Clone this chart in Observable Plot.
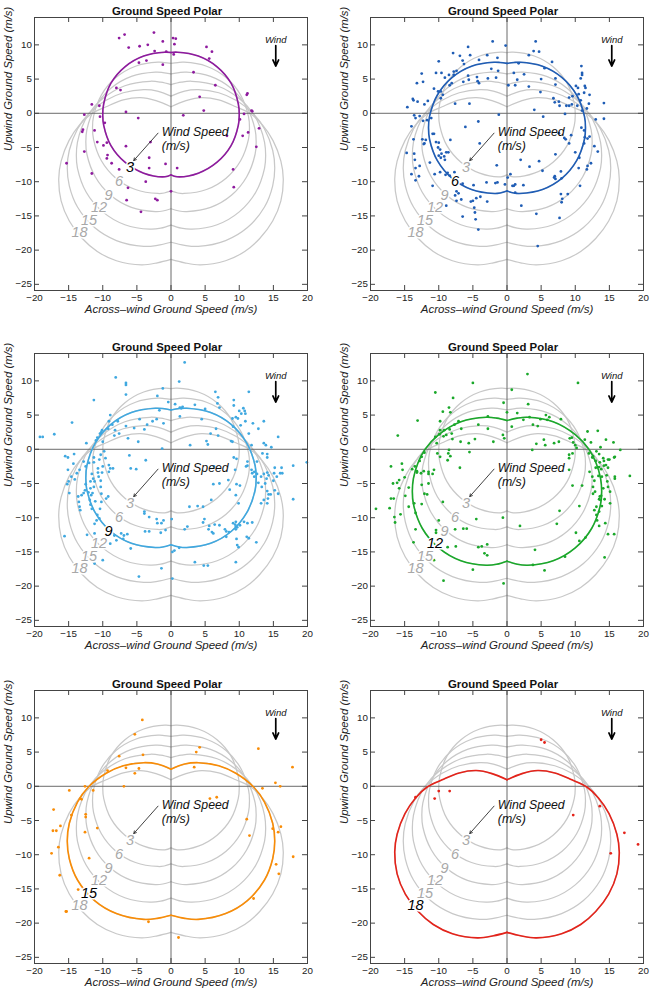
<!DOCTYPE html>
<html><head><meta charset="utf-8">
<script src="https://cdn.jsdelivr.net/npm/d3@7"></script>
<script src="https://cdn.jsdelivr.net/npm/@observablehq/plot@0.6"></script>
<style>
body{margin:0;background:#fff;width:650px;height:992px;overflow:hidden;position:relative;font-family:"Liberation Sans",Arial,Helvetica,sans-serif;}
.panel{position:absolute;}
</style></head><body>
<div id="p0" class="panel" style="left:0px;top:0px"></div>
<div id="p1" class="panel" style="left:336px;top:0px"></div>
<div id="p2" class="panel" style="left:0px;top:336px"></div>
<div id="p3" class="panel" style="left:336px;top:336px"></div>
<div id="p4" class="panel" style="left:0px;top:673px"></div>
<div id="p5" class="panel" style="left:336px;top:673px"></div>
<script>
const xTicks = [-20,-15,-10,-5,0,5,10,15,20];
const yTicks = [-25,-20,-15,-10,-5,0,5,10];
const windSpeeds = [3,6,9,12,15,18];
const panelColors = ["#8e1a9e","#1f5db5","#3fa8e0","#1aa82a","#f98c06","#e4231a"];
const titleText = "Ground Speed Polar";
const xLabel = "Across\u2013wind Ground Speed (m/s)";
const yLabel = "Upwind Ground Speed (m/s)";

// right halves of the polar curves (top cusp -> bottom cusp)
const polar3 = [[0,8.88],[0.9,8.93],[4.0,8.37],[6.75,6.8],[8.8,4.4],[9.86,1.4],[10.0,-0.2],[9.86,-1.76],[8.8,-4.73],[6.75,-7.15],[4.0,-8.75],[0.9,-9.28],[0,-9.0]];
const polar6 = [[0,7.3],[1.0,7.42],[1.9,7.46],[5.2,6.88],[8.07,5.22],[10.2,2.67],[11.35,-0.46],[11.5,-2.13],[11.35,-3.8],[10.2,-6.93],[8.07,-9.48],[5.2,-11.14],[1.9,-11.72],[1.0,-11.65],[0,-11.35]];
const polar9 = [[0,5.75],[1.2,5.95],[2.3,6.0],[5.8,5.39],[8.85,3.62],[11.1,0.91],[12.33,-2.41],[12.48,-4.18],[12.33,-5.95],[11.1,-9.27],[8.85,-11.98],[5.8,-13.75],[2.3,-14.36],[1.2,-14.28],[0,-13.95]];
const polar12 = [[0,4.2],[1.5,4.55],[3.06,4.68],[6.76,4.03],[10.0,2.15],[12.0,0],[13.05,-2.0],[13.71,-4.25],[13.87,-6.13],[13.71,-8.01],[12.42,-11.54],[10.0,-14.41],[6.76,-16.29],[3.06,-16.94],[1.5,-16.8],[0,-16.35]];
const polar15 = [[0,2.5],[2.0,3.25],[4.0,3.45],[7.0,3.0],[9.5,1.9],[12.1,-0.1],[13.7,-2.3],[14.9,-5.4],[15.2,-8.0],[14.9,-10.6],[13.7,-13.7],[11.2,-16.7],[8.0,-18.6],[4.0,-19.45],[2.0,-19.3],[0,-18.85]];
const polar18 = [[0,0.95],[2.2,1.85],[4.5,2.3],[7.0,1.95],[9.5,0.95],[11.7,-0.1],[13.4,-1.7],[14.95,-4.0],[16.1,-7.0],[16.45,-9.6],[16.1,-12.8],[14.9,-15.75],[13.0,-18.3],[10.8,-20.2],[8.0,-21.55],[4.3,-22.15],[2.0,-21.85],[0,-21.35]];

const curveLabelX = [-6.0,-7.6,-9.15,-10.55,-12.0,-13.4];
const curveLabelY = [-7.85,-9.9,-11.95,-13.75,-15.6,-17.45];
const noteText = ["Wind Speed","(m/s)"];
const noteX = [-1.35,-1.35];
const noteY = [-2.8,-4.8];
const pointerArrow = [{x1:-1.9,y1:-2.9,x2:-5.45,y2:-6.9}];
const windArrow = [{x1:15.35,y1:9.9,x2:15.35,y2:6.9}];
const windLabel = [{x:15.35,y:10.75,t:"Wind"}];

const obs3 = [[-7.6,11.0],[-6.8,11.5],[-6.2,9.6],[-4.6,9.8],[-3.4,10.0],[-2.5,11.8],[-1.2,10.5],[-2.4,9.1],[-0.7,9.0],[0.3,11.0],[0.7,10.9],[0.5,10.1],[0.4,8.6],[-4.7,7.4],[-3.6,7.7],[-1.2,7.1],[5.2,9.7],[6.0,9.0],[5.6,8.0],[3.3,6.0],[6.5,4.1],[4.2,2.4],[4.8,0.4],[11.1,2.7],[11.2,2.9],[11.8,0.4],[11.9,0.3],[10.7,-0.1],[10.1,-0.9],[1.8,-0.3],[8.2,-3.3],[10.5,-3.3],[11.3,-2.8],[12.9,-2.2],[12.5,-4.9],[9.1,-8.2],[9.2,-10.8],[0.9,-8.0],[-0.8,-7.4],[-3.2,-6.5],[-3.2,-8.0],[-3.0,-4.2],[-4.8,-0.7],[-6.6,0.2],[-6.6,-4.8],[-8.0,3.7],[-7.4,3.4],[-11.6,1.3],[-10.5,1.1],[-10.4,-0.5],[-12.7,-0.2],[-9.7,-1.4],[-11.2,-2.5],[-12.9,-2.4],[-13.0,-2.7],[-10.8,-4.2],[-9.4,-4.3],[-9.9,-4.7],[-9.3,-6.1],[-9.4,-6.6],[-8.7,-7.3],[-7.6,-8.2],[-12.7,-5.6],[-15.3,-7.3],[-11.6,-8.8],[-3.7,-10.0],[-6.3,-10.9],[-6.5,-12.7],[-2.3,-12.5],[-2.0,-12.7],[-4.4,-14.4],[0,-11.4]];
const obs6 = [[-2.1,10.5],[-0.2,9.9],[4.2,10.5],[3.9,9.1],[4.7,9.0],[-5.7,9.7],[-7.9,8.8],[-6.9,8.4],[-6.5,7.7],[-5.4,8.5],[-10.0,7.6],[-2.9,8.5],[-1.4,8.1],[-6.3,7.2],[-4.1,7.8],[1.7,7.3],[3.2,8.5],[6.6,7.5],[10.9,6.9],[-2.3,6.5],[-1.3,6.2],[5.5,6.6],[-12.5,5.8],[-10.4,5.9],[-9.6,5.9],[-9.1,5.2],[-7.8,6.1],[-7.4,6.2],[-8.5,5.6],[-7.8,5.6],[-6.4,4.6],[-5.6,4.9],[-4.4,5.3],[-4.3,4.7],[-4.1,4.4],[-5.7,5.5],[-2.8,5.1],[-1.6,5.2],[1.0,5.9],[1.5,4.9],[2.5,5.7],[0.2,4.1],[1.2,4.1],[3.2,3.9],[5.0,5.0],[7.1,5.1],[7.1,4.2],[4.9,3.1],[11.0,5.9],[11.0,5.6],[10.8,5.1],[10.1,4.0],[10.4,3.7],[11.4,4.0],[11.5,3.7],[11.3,3.0],[10.5,2.8],[12.1,2.7],[9.6,2.5],[9.1,2.3],[10.8,1.9],[12.0,1.4],[-13.2,4.4],[-12.3,4.6],[-14.6,0.9],[-13.8,2.1],[-13.7,1.9],[-13.1,1.7],[-12.1,1.3],[-11.6,1.8],[-10.7,3.6],[-10.1,3.2],[-9.7,3.2],[-9.4,2.7],[-9.7,2.2],[-7.6,1.4],[-5.5,1.4],[-8.1,4.4],[-8.4,4.1],[6.8,2.2],[7.0,1.6],[7.6,1.7],[7.7,1.1],[8.7,1.1],[9.1,1.1],[9.5,1.3],[10.3,1.1],[4.0,0.5],[5.3,-0.5],[8.5,-0.1],[14.2,1.5],[14.2,-0.8],[13.0,-0.9],[11.7,0.7],[11.0,0.4],[-12.8,-0.4],[-13.6,-0.3],[-14.0,-1.9],[-13.4,-0.7],[-12.3,-1.1],[-11.7,-1.0],[-11.1,-0.7],[-1.2,-0.2],[-4.2,-1.2],[-6.1,-2.0],[-4.0,-4.4],[-14.7,-5.8],[-13.7,-3.8],[-12.4,-3.8],[-12.1,-4.4],[-11.9,-3.9],[-12.2,-4.5],[-10.9,-3.0],[-10.7,-3.0],[-10.4,-4.2],[-10.0,-4.3],[-10.1,-5.0],[-9.8,-5.3],[-9.6,-5.9],[-10.0,-6.2],[-9.2,-6.3],[-9.7,-6.5],[-9.1,-6.8],[-8.6,-5.7],[-8.9,-5.7],[-8.3,-3.9],[-11.3,-7.2],[-13.6,-5.9],[-13.5,-6.8],[-13.4,-8.0],[-14.0,-8.9],[-12.9,-9.2],[-13.4,-9.8],[-12.8,-7.7],[-10.9,-10.6],[-10.6,-8.9],[-9.8,-8.6],[-9.0,-9.0],[-8.7,-8.7],[-8.4,-9.1],[-7.7,-8.6],[-6.5,-10.3],[-7.4,-11.4],[-7.1,-11.7],[-7.6,-12.0],[-6.7,-12.6],[-7.4,-12.8],[-8.9,-13.5],[-6.5,-15.1],[-5.3,-12.9],[-5.0,-12.8],[-4.5,-12.4],[-3.9,-12.2],[-4.8,-13.8],[-4.7,-14.5],[-4.6,-15.5],[-4.2,-17.0],[-4.9,-10.5],[-3.0,-10.1],[-1.4,-10.1],[-2.9,-12.9],[-1.7,-10.2],[-0.3,-10.4],[0.1,-9.4],[0.5,-8.9],[0.8,-10.6],[1.2,-10.4],[1.0,-10.6],[1.2,-11.6],[2.4,-10.5],[2.1,-13.5],[-1.5,-7.6],[2.0,-6.8],[3.3,-7.8],[4.7,-7.0],[5.2,-8.4],[4.3,-14.7],[4.5,-19.4],[7.1,-6.0],[6.9,-9.4],[7.0,-9.2],[7.1,-9.6],[7.9,-8.5],[8.0,-9.5],[7.9,-11.8],[8.1,-12.5],[7.7,-15.3],[8.0,-13.0],[8.9,-11.8],[7.6,-2.9],[8.4,-3.6],[8.6,-3.8],[9.4,-3.2],[9.1,-4.4],[10.0,-5.7],[10.6,-6.5],[10.5,-8.0],[10.7,-10.6],[10.9,-2.1],[11.3,-2.5],[11.4,-3.5],[11.3,-4.4],[11.8,-3.7],[12.1,-3.4],[12.8,-4.8],[13.3,-5.6],[12.3,-7.3],[11.8,-7.7],[11.7,-8.2]];
const obs9 = [[2.0,12.7],[-8.1,10.5],[-6.6,9.7],[-6.6,9.4],[1.2,9.9],[-1.2,8.9],[-11.3,7.2],[-6.6,8.0],[-2.0,7.8],[-0.4,6.9],[0.6,6.6],[1.3,6.1],[1.5,6.0],[1.7,6.2],[3.5,6.5],[5.0,5.9],[6.5,8.4],[6.9,7.6],[6.8,6.7],[7.1,6.1],[11.4,8.4],[9.2,7.2],[9.2,6.4],[10.0,5.6],[10.6,6.0],[10.8,5.6],[10.9,5.2],[10.3,5.2],[9.5,4.7],[9.8,4.5],[9.0,4.5],[10.9,4.1],[12.0,3.8],[13.6,4.1],[12.8,3.0],[15.7,1.8],[13.6,0.9],[13.9,0.6],[14.7,0.3],[11.8,0.6],[11.4,2.3],[10.2,3.5],[9.1,3.3],[8.8,1.2],[9.0,1.1],[5.8,2.3],[6.6,3.0],[6.9,2.0],[5.2,1.2],[5.4,0.7],[2.8,0.6],[4.5,4.4],[1.3,4.8],[-1.7,5.7],[-2.1,4.4],[-1.1,3.8],[-2.7,4.1],[-3.5,3.6],[-4.6,4.4],[-3.9,2.9],[-5.4,3.1],[-6.6,3.4],[-7.8,4.1],[-8.9,5.0],[-9.1,4.1],[-8.6,3.6],[-9.2,3.0],[-10.1,2.8],[-8.2,2.8],[-7.6,2.3],[-8.3,2.0],[-6.3,1.6],[-4.8,1.1],[-10.8,1.7],[-10.4,2.3],[-10.2,2.5],[-11.0,1.3],[-10.0,1.1],[-14.5,3.9],[-17.1,2.2],[-19.2,1.8],[-18.8,1.8],[-12.4,0.9],[-9.8,-0.3],[-1.3,0.1],[-6.1,-0.9],[-3.7,-1.6],[-5.9,-2.8],[-5.1,-2.9],[-15.5,-1.0],[-15.1,-1.2],[-14.2,-0.7],[-12.8,-1.8],[-14.3,-2.1],[-15.1,-3.0],[-13.4,-3.0],[-14.6,-4.0],[-14.1,-4.4],[-15.2,-5.1],[-14.9,-6.4],[-15.0,-4.7],[-12.5,-2.5],[-12.0,-2.0],[-11.3,-1.9],[-11.3,-1.2],[-10.3,-0.8],[-10.5,-1.5],[-9.6,-1.3],[-10.7,-2.8],[-10.0,-2.5],[-9.1,-2.3],[-8.9,-2.8],[-8.5,-2.8],[-9.1,-3.3],[-10.1,-3.4],[-10.7,-3.4],[-11.6,-3.6],[-11.4,-4.3],[-11.8,-4.7],[-11.2,-4.7],[-10.6,-4.0],[-10.3,-4.6],[-10.3,-5.5],[-11.3,-5.5],[-11.8,-5.7],[-12.5,-5.1],[-12.6,-6.0],[-12.8,-6.4],[-13.1,-6.7],[-13.6,-6.9],[-13.8,-3.5],[-13.5,-7.7],[-13.4,-8.4],[-13.3,-8.9],[-12.1,-6.3],[-11.7,-6.7],[-11.5,-6.4],[-11.9,-7.4],[-10.2,-6.5],[-9.5,-7.2],[-9.2,-6.9],[-10.2,-7.7],[-11.1,-7.6],[-11.8,-8.1],[-11.6,-8.7],[-10.9,-10.4],[-11.2,-10.9],[-10.5,-10.1],[-10.4,-8.7],[-10.8,-9.6],[-12.3,-12.5],[-11.2,-12.3],[-11.2,-16.7],[-10.0,-16.2],[-15.6,-12.7],[-7.3,-12.3],[-6.9,-12.6],[-6.4,-12.4],[-7.0,-13.1],[-8.0,-13.3],[-8.3,-12.6],[-5.9,-14.5],[-8.9,-13.8],[-3.9,-9.1],[-3.9,-9.4],[-3.2,-9.9],[-3.8,-12.0],[-3.2,-12.0],[-2.1,-10.2],[-2.0,-10.8],[-1.4,-10.8],[-1.1,-10.4],[0.1,-10.2],[-0.8,-11.8],[-1.5,-12.2],[-1.4,-17.4],[-4.7,-18.6],[0.2,-18.9],[0.2,-15.0],[0.5,-14.8],[1.2,-14.4],[2.0,-11.7],[2.4,-11.3],[2.7,-8.4],[3.9,-8.3],[4.7,-8.4],[3.5,-16.5],[4.8,-17.0],[5.4,-17.0],[6.2,-5.1],[7.1,-5.0],[8.4,-4.5],[8.6,-5.9],[4.9,-10.2],[4.7,-10.7],[5.6,-11.2],[6.4,-11.0],[7.1,-11.1],[7.9,-11.7],[8.1,-12.0],[5.5,-11.7],[6.0,-12.1],[6.2,-12.3],[8.1,-12.8],[8.5,-12.1],[9.1,-10.8],[9.4,-11.0],[9.5,-11.3],[9.5,-11.7],[9.7,-11.4],[9.5,-10.6],[10.1,-11.1],[9.6,-13.1],[9.7,-14.0],[9.9,-14.3],[9.5,-16.5],[11.1,-12.8],[11.4,-13.0],[12.5,-13.6],[11.9,-10.7],[11.2,-10.8],[9.9,-7.9],[9.5,-6.7],[9.6,-5.1],[9.2,-1.2],[9.6,-1.4],[9.4,-3.0],[11.0,-2.5],[11.2,-2.4],[11.9,-3.5],[12.2,-4.0],[12.6,-3.6],[13.2,-4.0],[13.6,-3.6],[14.1,-3.4],[14.3,-3.8],[14.0,-4.3],[13.8,-5.0],[13.3,-5.5],[12.8,-4.9],[12.6,-1.8],[13.4,-0.6],[14.1,-1.2],[14.1,-0.7],[15.2,-2.7],[15.1,-3.5],[16.0,-3.5],[16.2,-2.7],[15.5,-4.0],[16.3,-3.5],[15.0,-4.6],[15.2,-6.0],[14.1,-6.1],[14.6,-6.6],[14.3,-6.6],[14.2,-7.2],[14.1,-7.9],[15.7,-6.5],[13.6,-7.4],[13.2,-7.9],[17.9,-2.4],[17.9,-7.3],[19.9,-1.9],[6.3,-2.5],[5.9,-7.4],[12.2,-3.3],[11.8,-3.0],[11.2,-1.8],[10.1,-5.3],[10.7,-10.6]];
const obs12 = [[3.0,11.0],[-5.0,9.7],[10.4,9.7],[-10.5,8.3],[-7.9,7.5],[0.7,8.7],[-8.5,6.1],[-8.3,5.4],[-9.4,5.5],[-13.1,4.2],[-0.5,6.8],[3.1,6.6],[0,5.4],[1.5,5.3],[2.4,4.3],[0.7,3.3],[-2.8,4.8],[-4.2,3.6],[-7.1,4.1],[-7.7,3.6],[-6.7,3.0],[-8.4,2.9],[-9.8,4.1],[-9.8,2.8],[-9.2,2.8],[-9.9,2.2],[-10.5,1.8],[-10.3,0.9],[-9.3,1.9],[-8.9,2.1],[-8.0,1.5],[-8.1,2.3],[-4.7,1.5],[-5.6,0.9],[-6.8,1.1],[-2.8,3.0],[-2.0,1.1],[-0.6,2.1],[-0.4,1.6],[3.8,3.6],[4.5,3.4],[3.3,4.7],[5.9,4.3],[4.9,4.4],[5.4,1.4],[4.3,0.8],[3.7,-0.1],[5.6,0.6],[6.2,4.7],[7.9,4.4],[5.7,5.0],[6.9,0.9],[7.6,1.1],[9.2,1.6],[9.5,1.7],[9.7,1.0],[10.0,0.6],[10.2,0.2],[9.6,-0.6],[9.1,-0.8],[9.1,-1.3],[9.1,-3.0],[9.6,-5.3],[11.8,2.6],[11.4,1.4],[12.3,1.0],[13.3,2.7],[14.5,1.4],[15.6,1.0],[13.7,0.3],[16.6,-0.1],[12.0,-0.6],[12.6,-1.0],[13.1,-0.3],[12.5,-1.2],[13.5,-0.7],[14.1,-1.3],[13.0,-1.7],[13.6,-1.9],[14.2,-1.7],[14.8,-1.5],[15.0,-1.5],[15.7,-1.2],[15.8,-1.1],[14.8,-2.7],[14.5,-2.3],[14.2,-2.4],[13.8,-2.9],[13.5,-2.6],[13.0,-2.7],[12.1,-3.3],[13.4,-3.9],[12.5,-4.0],[12.8,-4.6],[13.9,-4.0],[14.6,-3.8],[15.8,-4.0],[15.8,-4.3],[18.0,-3.9],[14.7,-4.7],[14.8,-5.5],[15.1,-6.2],[14.1,-5.7],[12.6,-5.5],[12.9,-6.2],[12.6,-6.5],[13.6,-6.9],[13.8,-6.8],[13.5,-7.3],[13.7,-7.4],[13.1,-8.4],[12.8,-8.9],[13.5,-9.1],[13.1,-9.6],[13.2,-10.4],[13.9,-8.3],[14.3,-7.3],[15.1,-7.9],[13.5,-11.2],[14.4,-10.8],[14.8,-12.4],[15.7,-12.4],[14.3,-15.8],[10.6,-8.3],[11.0,-5.3],[10.1,-12.2],[10.6,-13.4],[11.5,-12.9],[8.5,-15.7],[7.3,-10.9],[7.7,-9.0],[5.5,-17.7],[3.8,-16.9],[4.1,-14.7],[1.9,-11.2],[-0.5,-19.6],[-0.6,-10.0],[-5.0,-17.6],[-4.5,-10.2],[-4.2,-14.3],[-3.7,-14.2],[-2.9,-13.9],[-3.3,-15.2],[-2.9,-15.5],[-5.9,-11.6],[-6.4,-11.6],[-7.6,-11.7],[-9.4,-7.7],[-10.0,-10.4],[-10.4,-11.8],[-10.4,-12.2],[-9.5,-13.5],[-8.7,-14.3],[-7.5,-14.2],[-10.7,-16.2],[-9.3,-19.2],[-13.7,-13.6],[-13.4,-11.7],[-13.4,-9.3],[-13.6,-7.9],[-12.5,-8.0],[-11.7,-6.6],[-12.1,-6.5],[-12.5,-5.2],[-11.5,-5.0],[-11.5,-3.6],[-11.5,-3.3],[-12.2,-3.2],[-12.6,-3.5],[-13.2,-3.4],[-13.9,-2.9],[-13.5,-2.5],[-13.2,-3.2],[-12.8,-1.7],[-12.5,-1.1],[-12.1,-0.5],[-10.7,-3.0],[-10.9,-3.6],[-10.2,-0.6],[-9.8,-1.1],[-8.5,-0.1],[-8.6,-0.6],[-8.3,-1.0],[-8.7,-1.6],[-5.5,-0.4],[-6.9,-2.7],[-15.0,-4.1],[-15.3,-3.0],[-15.4,-2.1],[-15.8,-4.5],[-16.1,-4.9],[-16.7,-5.0],[-17.0,-2.5],[-15.8,-5.7],[-14.9,-6.8],[-14.4,-5.6],[-14.4,-8.4],[-15.6,-9.5],[-16.5,-9.9],[-16.4,-10.7],[-17.0,-7.2],[-16.6,-7.2],[-17.2,-8.6],[-19.2,-8.7],[-16.0,2.0]];
const obs15 = [[-4.2,9.7],[-5.3,7.6],[4.2,5.7],[3.7,5.0],[-4.1,4.6],[-7.6,4.4],[-6.6,2.7],[-4.7,2.6],[3.4,2.8],[-5.3,1.9],[-9.3,2.3],[-6.9,0.0],[-12.6,0.0],[-11.4,-0.6],[-14.9,-0.6],[-13.3,-1.8],[-13.1,-1.9],[-17.2,-3.4],[-14.6,-4.2],[-12.5,-4.1],[-12.5,-4.5],[-16.2,-5.8],[-17.3,-6.5],[-16.8,-6.5],[-10.8,-6.1],[-12.6,-6.7],[-16.5,-8.9],[-17.5,-9.8],[-12.0,-10.5],[-16.3,-13.0],[-13.6,-15.1],[-15.4,-18.3],[-15.3,-18.3],[-3.3,-19.8],[1.1,-22.1],[5.7,-1.8],[6.7,-1.6],[11.1,-4.8],[11.5,-7.2],[12.8,5.5],[13.4,-0.3],[15.3,0.5],[16.0,0.0],[17.8,2.8],[14.9,-6.2],[15.7,-6.7],[16.1,-5.9],[17.9,-10.3],[15.4,-11.4],[15.8,-12.8],[12.1,-16.4]];
const obs18 = [[5.0,6.8],[5.5,6.4],[-10.0,-0.7],[-8.4,-0.7],[-10.6,-1.8],[-13.4,-1.6],[9.7,-4.2],[13.6,-2.9],[17.2,-6.8],[15.2,-9.8],[19.2,-8.5]];

const halves = [polar3, polar6, polar9, polar12, polar15, polar18];
const observations = [obs3, obs6, obs9, obs12, obs15, obs18];

function curveRows(w, half) {
  const right = half.map(([x, y]) => ({key: w + "R", x, y}));
  const left = half.map(([x, y]) => ({key: w + "L", x: -x, y}));
  return right.concat(left);
}

const FW = 273, FH = 273;
const grayRows = windSpeeds.flatMap((w, k) => curveRows(w, halves[k]));
const font = "'Liberation Sans', Arial, Helvetica, sans-serif";

windSpeeds.forEach((W, i) => {
  const color = panelColors[i];
  const labelRows = windSpeeds.map((w, k) => ({w, x: curveLabelX[k], y: curveLabelY[k]}));
  const noteRows = noteText.map((t, k) => ({t, x: noteX[k], y: noteY[k]}));
  const chart = Plot.plot({
    width: 314, height: 336,
    marginLeft: 34, marginRight: 7, marginTop: 17, marginBottom: 46,
    style: {fontFamily: font, fontSize: "9.8px", color: "#222", background: "white"},
    x: {domain: [-20, 20]},
    y: {domain: [-25.9, 14]},
    marks: [
      Plot.line(grayRows, {x: "x", y: "y", z: "key", curve: "catmull-rom", stroke: "#c8c8c8", strokeWidth: 1.25}),
      Plot.ruleX([0], {stroke: "#6a6a6a", strokeWidth: 1}),
      Plot.ruleY([0], {stroke: "#6a6a6a", strokeWidth: 1}),
      Plot.line(curveRows(W, halves[i]), {x: "x", y: "y", z: "key", curve: "catmull-rom", stroke: color, strokeWidth: 1.6}),
      Plot.dot(observations[i], {x: d => d[0], y: d => d[1], r: 1.4, fill: color, stroke: null}),
      Plot.text(labelRows, {x: "x", y: "y", text: d => String(d.w), fontSize: 14.5, fontStyle: "italic",
        fill: d => d.w === W ? "#000" : "#a8a8a8", stroke: "white", strokeWidth: 3}),
      Plot.text(noteRows, {x: "x", y: "y", text: "t", textAnchor: "start", fontSize: 12.3, fontStyle: "italic", fill: "#111"}),
      Plot.arrow(pointerArrow, {x1: "x1", y1: "y1", x2: "x2", y2: "y2", stroke: "#111", strokeWidth: 0.8, headLength: 5}),
      Plot.text(windLabel, {x: "x", y: "y", text: "t", fontSize: 9.5, fontStyle: "italic", fill: "#111"}),
      Plot.arrow(windArrow, {x1: "x1", y1: "y1", x2: "x2", y2: "y2", stroke: "#000", strokeWidth: 1.7, headLength: 6, headAngle: 50}),
      Plot.frame({stroke: "#444", strokeWidth: 1}),
      Plot.tickX(xTicks, {x: d => d, insetTop: FH - 5, stroke: "#444"}),
      Plot.tickX(xTicks, {x: d => d, insetBottom: FH - 5, stroke: "#444"}),
      Plot.tickY(yTicks, {y: d => d, insetRight: FW - 5, stroke: "#444"}),
      Plot.tickY(yTicks, {y: d => d, insetLeft: FW - 5, stroke: "#444"}),
      Plot.axisX({ticks: xTicks, tickSize: 0, tickPadding: 4, label: null}),
      Plot.axisY({ticks: yTicks, tickSize: 0, tickPadding: 2.5, label: null}),
      Plot.text([titleText], {frameAnchor: "top", dy: -11, dx: -4, fontWeight: "bold", fontSize: 11.4, fill: "#111"}),
      Plot.text([xLabel], {frameAnchor: "bottom", dy: 22.5, fontStyle: "italic", fontSize: 11.5, fill: "#222"}),
      Plot.text([yLabel], {frameAnchor: "left", dx: -26, dy: -3, rotate: -90, fontStyle: "italic", fontSize: 11.4, fill: "#222"})
    ]
  });
  document.getElementById("p" + i).appendChild(chart);
});
</script>
</body></html>
